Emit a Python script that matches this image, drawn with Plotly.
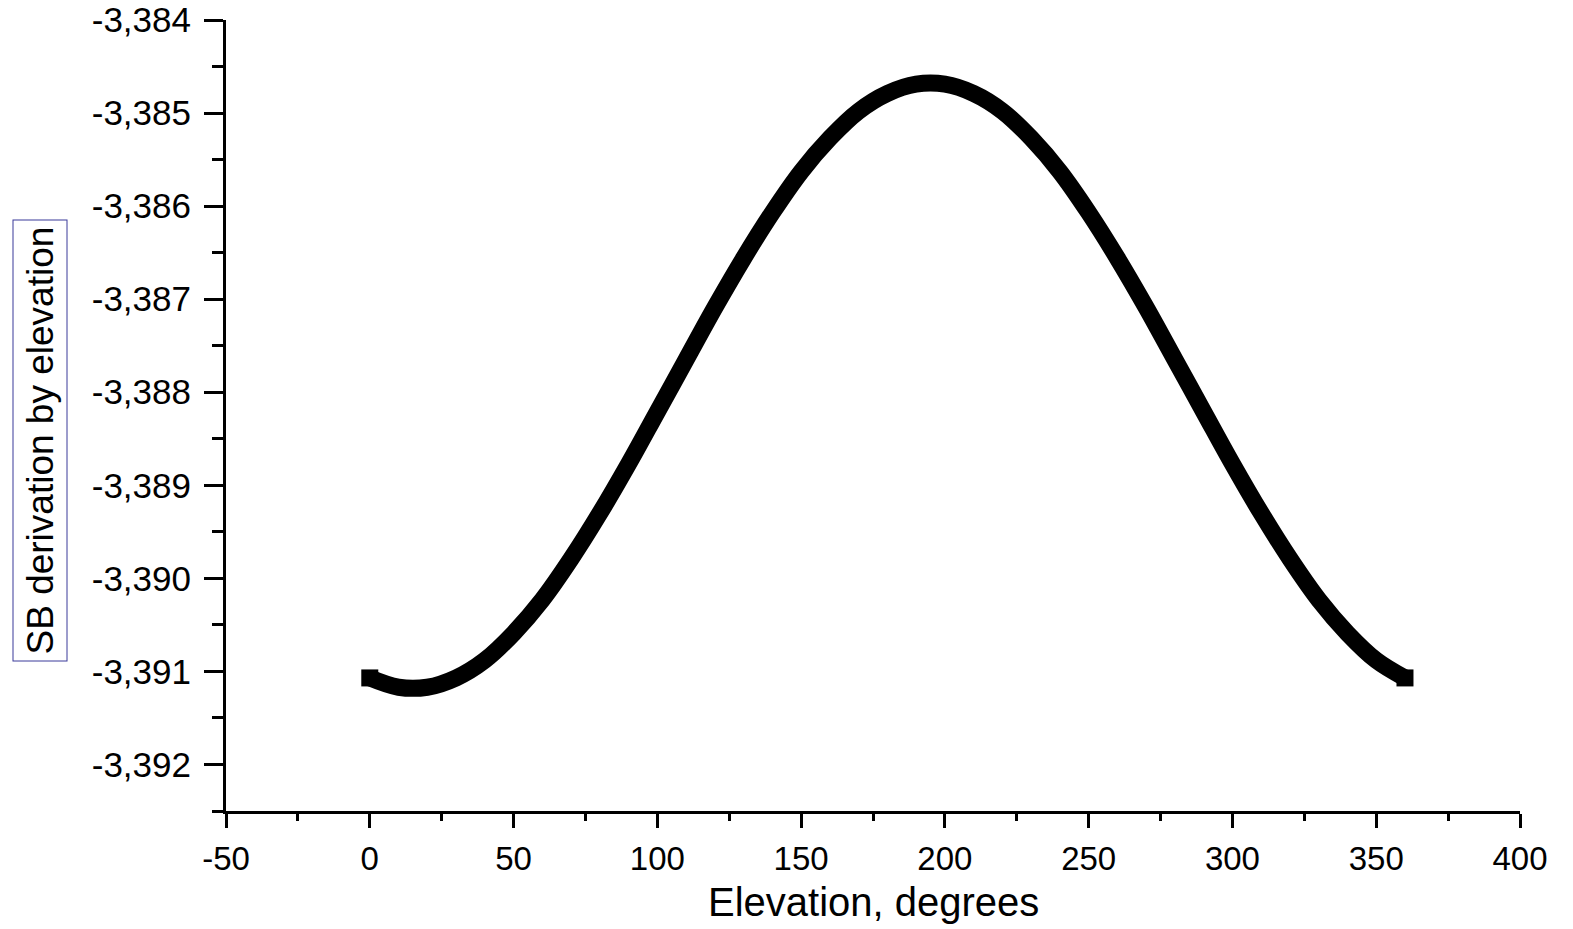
import plotly.graph_objects as go

# Data
elevation_deg = [0, 10, 20, 30, 40, 50, 60, 70, 80, 90, 100, 110, 120, 130, 140, 150, 160, 170, 180,
                 190, 200, 210, 220, 230, 240, 250, 260, 270, 280, 290, 300, 310, 320, 330, 340, 350, 360]
sb_derivation = [-3.39107, -3.39117, -3.39117, -3.39107, -3.39088, -3.39059, -3.39023, -3.38979, -3.38930,
                 -3.38877, -3.38821, -3.38765, -3.38709, -3.38656, -3.38607, -3.38563, -3.38527, -3.38498,
                 -3.38479, -3.38469, -3.38469, -3.38479, -3.38498, -3.38527, -3.38563, -3.38607, -3.38656,
                 -3.38709, -3.38765, -3.38821, -3.38877, -3.38930, -3.38979, -3.39023, -3.39059, -3.39088,
                 -3.39107]

x_tick_vals = [-50, 0, 50, 100, 150, 200, 250, 300, 350, 400]
x_tick_text = ["-50", "0", "50", "100", "150", "200", "250", "300", "350", "400"]
y_tick_vals = [-3.384, -3.385, -3.386, -3.387, -3.388, -3.389, -3.390, -3.391, -3.392]
y_tick_text = ["-3,384", "-3,385", "-3,386", "-3,387", "-3,388", "-3,389", "-3,390", "-3,391", "-3,392"]

FONT = "Liberation Sans, Arial, sans-serif"

fig = go.Figure()
fig.add_trace(go.Scatter(
    x=elevation_deg, y=sb_derivation,
    mode="lines",
    line=dict(color="black", width=17, shape="spline"),
    hoverinfo="skip", showlegend=False,
))
# square end caps at the first and last data points
fig.add_trace(go.Scatter(
    x=[elevation_deg[0], elevation_deg[-1]], y=[sb_derivation[0], sb_derivation[-1]],
    mode="markers",
    marker=dict(symbol="square", size=17, color="black", opacity=1, line=dict(width=0)),
    hoverinfo="skip", showlegend=False,
))

fig.update_layout(
    width=1573, height=929,
    margin=dict(l=226, r=53, t=20, b=118),
    paper_bgcolor="white", plot_bgcolor="white",
    font=dict(family=FONT, color="black"),
    xaxis=dict(
        range=[-50, 400], showgrid=False, zeroline=False, automargin=False,
        showline=True, linecolor="black", linewidth=3,
        tickmode="array", tickvals=x_tick_vals, ticktext=x_tick_text,
        ticks="outside", ticklen=14, tickwidth=3, tickcolor="black",
        tickfont=dict(size=33, family=FONT, color="black"),
        ticklabelstandoff=2,
        minor=dict(dtick=25, tick0=-50, ticks="outside", ticklen=7, tickwidth=3, tickcolor="black", showgrid=False),
    ),
    yaxis=dict(
        range=[-3.3925, -3.384], showgrid=False, zeroline=False, automargin=False,
        showline=True, linecolor="black", linewidth=3,
        tickmode="array", tickvals=y_tick_vals, ticktext=y_tick_text,
        ticks="outside", ticklen=19, tickwidth=3, tickcolor="black",
        tickfont=dict(size=35, family=FONT, color="black"),
        ticklabelstandoff=6,
        minor=dict(dtick=0.0005, tick0=-3.384, ticks="outside", ticklen=11, tickwidth=3, tickcolor="black", showgrid=False),
    ),
    annotations=[
        dict(text="Elevation, degrees", xref="paper", yref="paper", x=(873 - 226) / 1294, y=(811 - 902) / 791,
             xanchor="center", yanchor="middle", showarrow=False,
             font=dict(size=40, family=FONT, color="black")),
        dict(text="SB derivation by elevation", xref="paper", yref="paper",
             x=(39.5 - 226) / 1294, y=(811 - 441) / 791, xanchor="center", yanchor="middle",
             textangle=-90, showarrow=False,
             bordercolor="#3a3a9a", borderwidth=1, borderpad=6,
             font=dict(size=37, family=FONT, color="black")),
    ],
)

fig.write_html("out.html")
